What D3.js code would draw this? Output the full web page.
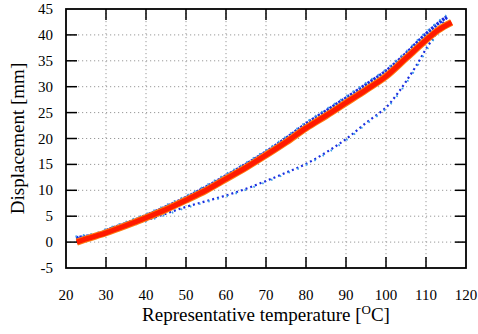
<!DOCTYPE html>
<html><head><meta charset="utf-8">
<script src="https://cdn.jsdelivr.net/npm/d3@7"></script>
<style>body{margin:0;background:#fff}svg{display:block}</style>
</head><body>
<svg id="c" width="478" height="334"></svg>
<script>
// Data
const xTicks = [20,30,40,50,60,70,80,90,100,110,120];
const yTicks = [-5,0,5,10,15,20,25,30,35,40,45];
// Red (fitted / simulated) curve: temperature, displacement
const redT = [22.7,25,30,35,40,45,50,55,60,65,70,75,80,85,90,95,100,105,110,113,116.4];
const redD = [0,0.6,1.8,3.2,4.7,6.3,8.1,10.0,12.2,14.4,16.8,19.3,22.0,24.4,26.9,29.4,32.0,35.5,39.0,40.9,42.4];
// Blue measured – heating branch
const upT = [22.5,25,28,30,35,40,45,50,55,60,65,70,75,80,85,90,95,100,105,110,113,115.2];
const upD = [0.8,1.1,1.5,2.2,3.6,5.1,6.8,8.6,10.6,12.8,15.0,17.4,20.0,22.8,25.3,27.8,30.4,33.0,36.4,40.2,42.2,43.5];
// Blue measured – cooling branch
const dnT = [115.2,114,112,110,108,105,103,100,95,90,85,80,75,70,65,60,55,50,45,40,35,30,23];
const dnD = [43.3,42.0,39.6,37.3,34.6,31.0,28.8,26.0,23.0,19.9,17.3,15.1,13.4,11.8,10.3,9.0,7.9,6.8,5.5,4.2,3.1,2.0,0.7];

const svg = d3.select('#c');
const L=66,R=466,T=9,B=268;
const x = d3.scaleLinear().domain([20,120]).range([L,R]);
const y = d3.scaleLinear().domain([-5,45]).range([B,T]);
const font = "'Liberation Serif','Times New Roman',serif";

// grid
const g = svg.append('g');
g.selectAll('.gx').data(xTicks.slice(1,-1)).join('line')
  .attr('x1',d=>x(d)).attr('x2',d=>x(d)).attr('y1',T).attr('y2',B)
  .attr('stroke','#999').attr('stroke-width',1).attr('stroke-dasharray','1.2,2.8');
g.selectAll('.gy').data(yTicks.slice(1,-1)).join('line')
  .attr('y1',d=>y(d)).attr('y2',d=>y(d)).attr('x1',L).attr('x2',R)
  .attr('stroke','#999').attr('stroke-width',1).attr('stroke-dasharray','1.2,2.8');

const lineM = d3.line().x(d=>x(d[0])).y(d=>y(d[1])).curve(d3.curveMonotoneX);
const lineC = d3.line().x(d=>x(d[0])).y(d=>y(d[1])).curve(d3.curveCatmullRom.alpha(0.5));
const up = upT.map((t,i)=>[t,upD[i]]);
const dn = dnT.map((t,i)=>[t,dnD[i]]);
const red = redT.map((t,i)=>[t,redD[i]]);

// blue dotted branches
svg.append('path').datum(dn).attr('d',lineC).attr('fill','none')
  .attr('stroke','#1a2ee0').attr('stroke-width',2.2).attr('stroke-dasharray','2,3');
svg.append('path').datum(dn).attr('d',lineC).attr('fill','none')
  .attr('stroke','#3aa0e8').attr('stroke-width',2).attr('stroke-dasharray','1.5,8').attr('stroke-dashoffset',3)
  .attr('transform','translate(0.8,0.8)');
svg.append('path').datum(up).attr('d',lineM).attr('fill','none')
  .attr('stroke','#1a2ee0').attr('stroke-width',3.5).attr('stroke-dasharray','2.5,1');
svg.append('path').datum(up).attr('d',lineM).attr('fill','none')
  .attr('stroke','#3aa0e8').attr('stroke-width',2).attr('stroke-dasharray','1.5,6')
  .attr('transform','translate(-0.5,-1.5)');

// red band
svg.append('path').datum(red).attr('d',lineM).attr('fill','none')
  .attr('stroke','#ff7a10').attr('stroke-width',7).attr('stroke-linecap','butt');
svg.append('path').datum(red).attr('d',lineM).attr('fill','none')
  .attr('stroke','#ff1a00').attr('stroke-width',5).attr('stroke-linecap','butt');

// ticks inward on all sides
const tk = svg.append('g').attr('stroke','#000').attr('stroke-width',1.5);
xTicks.slice(1,-1).forEach(d=>{
  tk.append('line').attr('x1',x(d)).attr('x2',x(d)).attr('y1',B).attr('y2',B-11);
  tk.append('line').attr('x1',x(d)).attr('x2',x(d)).attr('y1',T).attr('y2',T+11);
});
yTicks.slice(1,-1).forEach(d=>{
  tk.append('line').attr('y1',y(d)).attr('y2',y(d)).attr('x1',L).attr('x2',L+11);
  tk.append('line').attr('y1',y(d)).attr('y2',y(d)).attr('x1',R).attr('x2',R-11);
});
svg.append('rect').attr('x',L).attr('y',T).attr('width',R-L).attr('height',B-T)
  .attr('fill','none').attr('stroke','#000').attr('stroke-width',1.8);

// tick labels
svg.append('g').selectAll('text').data(xTicks).join('text')
  .attr('x',d=>x(d)).attr('y',300).attr('text-anchor','middle')
  .attr('font-family',font).attr('font-size',15).text(d=>d);
svg.append('g').selectAll('text').data(yTicks).join('text')
  .attr('x',53).attr('y',d=>y(d)+5).attr('text-anchor','end')
  .attr('font-family',font).attr('font-size',15).text(d=>d);

// axis titles
const xt = svg.append('text').attr('x',(L+R)/2).attr('y',321).attr('text-anchor','middle')
  .attr('font-family',font).attr('font-size',19);
xt.append('tspan').text('Representative temperature [');
xt.append('tspan').attr('font-size',13).attr('dy',-7).text('O');
xt.append('tspan').attr('dy',7).text('C]');
svg.append('text').attr('transform',`translate(24,${(T+B)/2}) rotate(-90)`)
  .attr('text-anchor','middle').attr('font-family',font).attr('font-size',19)
  .text('Displacement [mm]');
</script>
</body></html>
